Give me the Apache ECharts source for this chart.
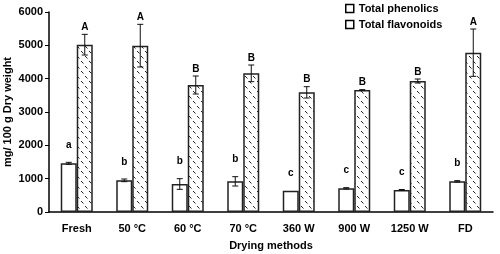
<!DOCTYPE html>
<html>
<head>
<meta charset="utf-8">
<script src="https://cdn.jsdelivr.net/npm/echarts@6/dist/echarts.min.js"></script>
<style>
  html, body { margin: 0; padding: 0; background: #fff; }
  #chart { width: 500px; height: 254px; }
</style>
</head>
<body>
<div id="chart"></div>
<script>
const categories = ['Fresh', '50 °C', '60 °C', '70 °C', '360 W', '900 W', '1250 W', 'FD'];
const phenolics = [1460, 950, 840, 920, 640, 710, 660, 920];
const phenolicsErr = [30, 40, 160, 140, 0, 20, 15, 20];
const phenolicsLetters = ['a', 'b', 'b', 'b', 'c', 'c', 'c', 'b'];
const flavonoids = [5020, 4990, 3810, 4160, 3590, 3660, 3930, 4780];
const flavonoidsErr = [310, 640, 270, 250, 170, 10, 60, 710];
const flavonoidsLetters = ['A', 'A', 'B', 'B', 'B', 'B', 'B', 'A'];
const yTicks = [0, 1000, 2000, 3000, 4000, 5000, 6000];

const BAR_W = 16;

// hatch pattern for flavonoid bars
function hatch() {
    const c = document.createElement('canvas');
    c.width = 8; c.height = 10;
    const g = c.getContext('2d');
    g.fillStyle = '#fff';
    g.fillRect(0, 0, 8, 10);
    g.strokeStyle = '#222';
    g.lineWidth = 1;
    g.beginPath();
    g.moveTo(1, 1); g.lineTo(3.5, 3.5);
    g.moveTo(5, 6); g.lineTo(7.5, 8.5);
    g.stroke();
    return c;
}

function errSeries(name, vals, errs, letters, side, letterGap) {
    return {
        name: name + ' err',
        type: 'custom',
        z: 5,
        silent: true,
        data: vals.map((v, i) => [i, v, errs[i]]),
        renderItem: function (params, api) {
            const i = api.value(0);
            const v = api.value(1);
            const e = api.value(2);
            const x = api.coord([i, v])[0] + side * BAR_W / 2;
            const yHi = api.coord([i, v + e])[1];
            const yLo = api.coord([i, v - e])[1];
            const children = [];
            if (e > 0) {
                const ls = {stroke: '#111', lineWidth: 1};
                children.push({type: 'line', shape: {x1: x, y1: yHi, x2: x, y2: yLo}, style: ls});
                children.push({type: 'line', shape: {x1: x - 3, y1: yHi, x2: x + 3, y2: yHi}, style: ls});
                children.push({type: 'line', shape: {x1: x - 3, y1: yLo, x2: x + 3, y2: yLo}, style: ls});
            }
            children.push({
                type: 'text',
                style: {
                    text: letters[i], x: x, y: yHi - letterGap,
                    align: 'center', verticalAlign: 'middle',
                    font: 'bold 10px "Liberation Sans", Arial, sans-serif', fill: '#000'
                }
            });
            return {type: 'group', children: children};
        }
    };
}

const txt = {fontWeight: 'bold', fontSize: 11, fontFamily: 'Liberation Sans', color: '#000'};

const chart = echarts.init(document.getElementById('chart'));
chart.setOption({
    animation: false,
    grid: {left: 49, right: 7, top: 12, bottom: 42, containLabel: false, outerBoundsMode: 'none'},
    legend: {
        data: ['Total phenolics', 'Total flavonoids'],
        orient: 'vertical',
        left: 340,
        top: -2,
        itemWidth: 8,
        itemHeight: 8,
        itemGap: 5,
        icon: 'rect',
        itemStyle: {color: '#fff', borderColor: '#000', borderWidth: 1.5},
        textStyle: txt
    },
    xAxis: {
        type: 'category',
        data: categories,
        name: 'Drying methods',
        nameLocation: 'middle',
        nameGap: 28,
        nameMoveOverlap: false,
        nameTextStyle: txt,
        axisLine: {lineStyle: {color: '#000', width: 1.5}},
        axisTick: {length: 4, lineStyle: {color: '#000'}},
        axisLabel: Object.assign({margin: 11}, txt)
    },
    yAxis: {
        type: 'value',
        min: 0,
        max: 6000,
        interval: 1000,
        name: 'mg/ 100 g Dry weight',
        nameLocation: 'middle',
        nameGap: 36,
        nameMoveOverlap: false,
        nameTextStyle: txt,
        axisLine: {show: true, lineStyle: {color: '#000', width: 1.5}},
        axisTick: {show: true, length: 4, lineStyle: {color: '#000'}},
        splitLine: {show: false},
        axisLabel: Object.assign({margin: 6, formatter: v => yTicks.includes(v) ? String(v) : ''}, txt)
    },
    series: [
        {
            name: 'Total phenolics',
            type: 'bar',
            barWidth: BAR_W,
            barGap: '0%',
            data: phenolics,
            itemStyle: {color: '#fff', borderColor: '#222', borderWidth: 1.5}
        },
        {
            name: 'Total flavonoids',
            type: 'bar',
            barWidth: BAR_W,
            barGap: '0%',
            data: flavonoids,
            itemStyle: {color: {image: hatch(), repeat: 'repeat'}, borderColor: '#222', borderWidth: 1.5}
        },
        errSeries('Total phenolics', phenolics, phenolicsErr, phenolicsLetters, -1, 17),
        errSeries('Total flavonoids', flavonoids, flavonoidsErr, flavonoidsLetters, 1, 7)
    ]
});
</script>
</body>
</html>
